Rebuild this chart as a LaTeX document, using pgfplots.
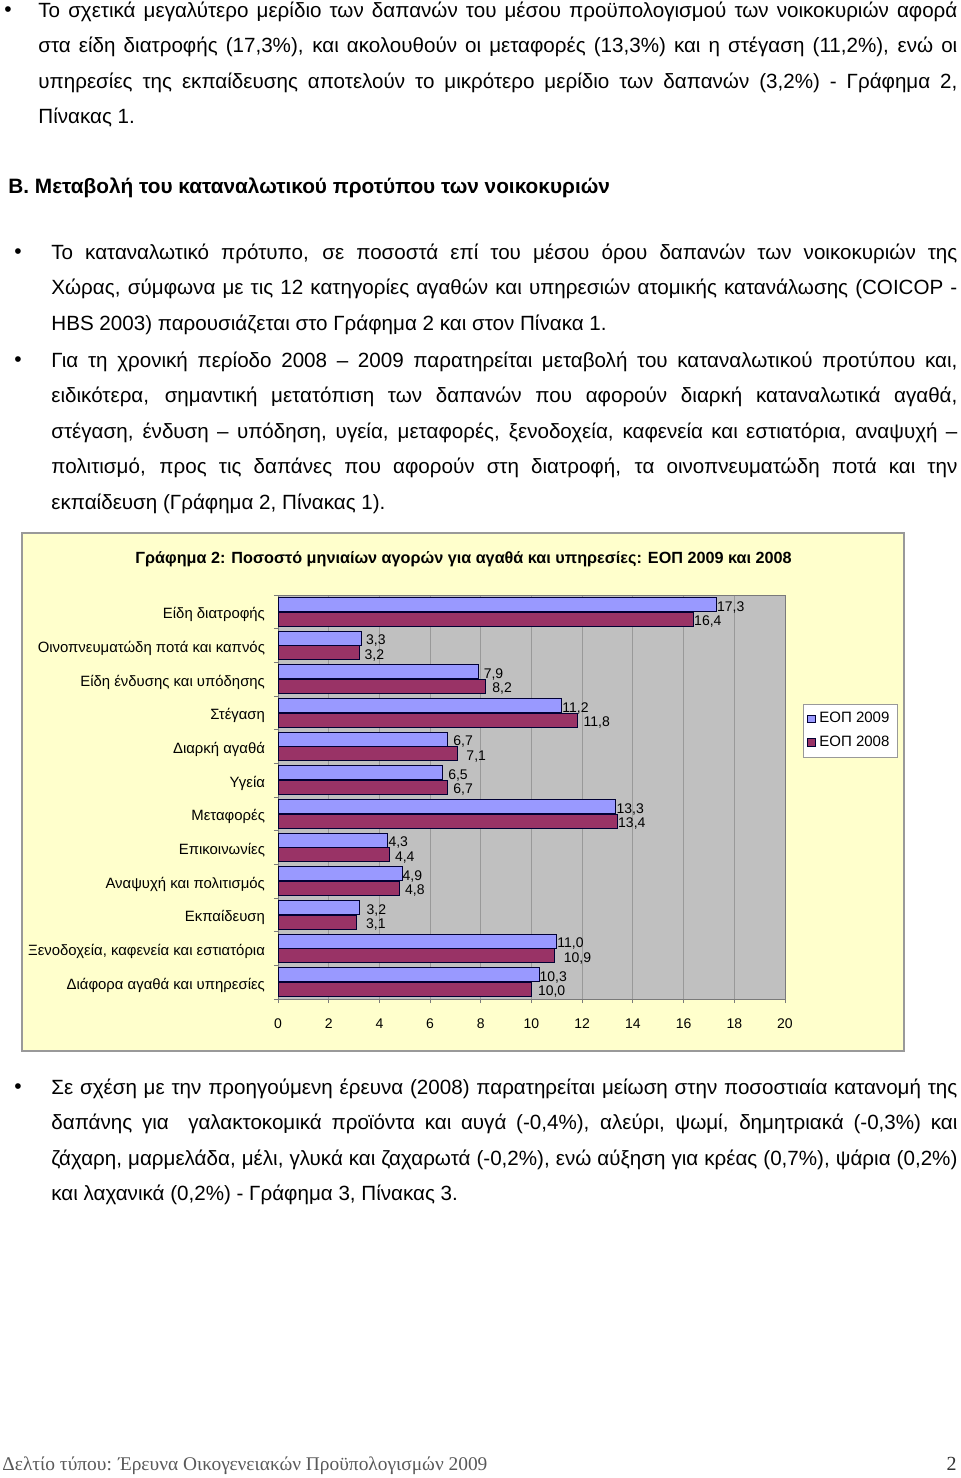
\documentclass[border=0pt]{standalone}
\usepackage{pgfplots}
\usepackage{pgfplotstable}
\pgfplotsset{compat=1.18}
\usepackage{fontspec}
\setmainfont{Liberation Sans}
\newfontfamily\seriffont{Liberation Serif}
\definecolor{chartbg}{HTML}{FFFFCC}
\definecolor{plotbg}{HTML}{C0C0C0}
\definecolor{sA}{HTML}{9999FF}
\definecolor{sB}{HTML}{993366}
\definecolor{gridc}{HTML}{999999}
\definecolor{barline}{HTML}{000033}

\pgfplotstableread{
y x dx
0 17.3 0
1 3.3 4
2 7.9 5
3 11.2 0
4 6.7 5
5 6.5 5
6 13.3 1
7 4.3 1
8 4.9 0
9 3.2 7
10 11.0 0
11 10.3 0
}\dataA

\pgfplotstableread{
y x dx
0 16.4 0
1 3.2 5
2 8.2 6
3 11.8 6
4 7.1 8
5 6.7 5
6 13.4 0
7 4.4 5
8 4.8 5
9 3.1 9
10 10.9 9
11 10.0 6
}\dataB

\begin{document}
\begin{tikzpicture}[x=0.5pt,y=-0.5pt]
\useasboundingbox (0,0) rectangle (960,1478);
\tikzset{
  body/.style={anchor=base west, inner sep=0pt, align=justify,
    font=\fontsize{10.3}{17.75}\selectfont},
  bul/.style={inner sep=0pt, font=\fontsize{10.5}{12}\selectfont}
}
% Paragraph 1
\node[bul] at (8,12) {•};
\node[body, text width=459.5pt] at (38,17) {Το σχετικά μεγαλύτερο μερίδιο των δαπανών του μέσου προϋπολογισμού των νοικοκυριών αφορά\linebreak
στα είδη διατροφής (17,3\%), και ακολουθούν οι μεταφορές (13,3\%) και η στέγαση (11,2\%), ενώ οι\linebreak
υπηρεσίες της εκπαίδευσης αποτελούν το μικρότερο μερίδιο των δαπανών (3,2\%) - Γράφημα 2,\linebreak
Πίνακας 1.};
% Heading
\node[anchor=base west, inner sep=0pt, font=\fontsize{10.4}{12}\selectfont\bfseries] at (8,193) {Β. Μεταβολή του καταναλωτικού προτύπου των νοικοκυριών};
% Paragraph 2
\node[bul] at (18,254) {•};
\node[body, text width=453pt] at (51,259) {Το καταναλωτικό πρότυπο, σε ποσοστά επί του μέσου όρου δαπανών των νοικοκυριών της\linebreak
Χώρας, σύμφωνα με τις 12 κατηγορίες αγαθών και υπηρεσιών ατομικής κατανάλωσης (COICOP -\linebreak
HBS 2003) παρουσιάζεται στο Γράφημα 2 και στον Πίνακα 1.};
% Paragraph 3
\node[bul] at (18,362) {•};
\node[body, text width=453pt] at (51,367) {Για τη χρονική περίοδο 2008 – 2009 παρατηρείται μεταβολή του καταναλωτικού προτύπου και,\linebreak
ειδικότερα, σημαντική μετατόπιση των δαπανών που αφορούν διαρκή καταναλωτικά αγαθά,\linebreak
στέγαση, ένδυση – υπόδηση, υγεία, μεταφορές, ξενοδοχεία, καφενεία και εστιατόρια, αναψυχή –\linebreak
πολιτισμό, προς τις δαπάνες που αφορούν στη διατροφή, τα οινοπνευματώδη ποτά και την\linebreak
εκπαίδευση (Γράφημα 2, Πίνακας 1).};
% Chart frame
\draw[gridc, fill=chartbg, line width=0.6pt] (22,533) rectangle (904,1051);
\node[font=\fontsize{8.1}{10}\selectfont\bfseries, inner sep=0pt] at (463.5,559) {Γράφημα 2: Ποσοστό μηνιαίων αγορών για αγαθά και υπηρεσίες: ΕΟΠ 2009 και 2008};
% Paragraph 4
\node[bul] at (18,1089) {•};
\node[body, text width=453pt] at (51,1094) {Σε σχέση με την προηγούμενη έρευνα (2008) παρατηρείται μείωση στην ποσοστιαία κατανομή της\linebreak
δαπάνης για \ γαλακτοκομικά προϊόντα και αυγά (-0,4\%), αλεύρι, ψωμί, δημητριακά (-0,3\%) και\linebreak
ζάχαρη, μαρμελάδα, μέλι, γλυκά και ζαχαρωτά (-0,2\%), ενώ αύξηση για κρέας (0,7\%), ψάρια (0,2\%)\linebreak
και λαχανικά (0,2\%) - Γράφημα 3, Πίνακας 3.};
% Footer
\node[anchor=base west, inner sep=0pt, font=\fontsize{9.7}{12}\seriffont, text=black!65] at (2,1470) {Δελτίο τύπου: Έρευνα Οικογενειακών Προϋπολογισμών 2009};
\node[anchor=base east, inner sep=0pt, font=\fontsize{10}{12}\seriffont, text=black!80] at (957,1470) {2};

\begin{axis}[
  at={(139pt,-499.5pt)}, anchor=south west,
  scale only axis, width=253.5pt, height=202pt,
  xbar, bar width=7pt,
  xmin=0, xmax=20, ymin=-0.5, ymax=11.5, y dir=reverse,
  axis background/.style={fill=plotbg},
  xtick={0,2,...,20},
  xmajorgrids, major grid style={draw=gridc, line width=0.5pt},
  axis line style={draw=gridc!80!black, line width=0.5pt},
  tick style={draw=gridc!80!black, line width=0.5pt},
  tick align=outside, major tick length=2pt,
  xtick pos=bottom, ytick pos=left,
  ytick={-0.5,0.5,...,11.5}, yticklabels={},
  extra y ticks={0,...,11},
  extra y tick style={major tick length=0pt, yticklabel style={xshift=-3pt, yshift=-1.5pt}},
  extra y tick labels={Είδη διατροφής,Οινοπνευματώδη ποτά και καπνός,Είδη ένδυσης και υπόδησης,Στέγαση,Διαρκή αγαθά,Υγεία,Μεταφορές,Επικοινωνίες,Αναψυχή και πολιτισμός,Εκπαίδευση,{Ξενοδοχεία, καφενεία και εστιατόρια},Διάφορα αγαθά και υπηρεσίες},
  yticklabel style={font=\fontsize{7.45}{9}\selectfont},
  xticklabel style={font=\fontsize{7}{9}\selectfont, yshift=-4.5pt},
  /pgf/number format/assume math mode=true,
  point meta=explicit,
  nodes near coords,
  nodes near coords style={font=\fontsize{7}{8}\selectfont, anchor=west, inner sep=0pt, yshift=-1.2pt,
    /pgf/number format/fixed, /pgf/number format/fixed zerofill,
    /pgf/number format/precision=1, /pgf/number format/use comma,
    /pgf/number format/assume math mode=true},
  legend style={at={(1.0355,0.731)}, anchor=north west, draw=gridc, fill=white,
    font=\fontsize{7.5}{9}\selectfont, inner sep=2pt, row sep=1pt,
    cells={anchor=west}},
]
\addplot[fill=sA, draw=barline, line width=0.5pt, bar shift=3.6pt,
  visualization depends on={\thisrow{dx} \as \dx},
  every node near coord/.append style={xshift=0.5*\dx pt},
  legend image code/.code={\draw[fill=sA, draw=barline, line width=0.4pt] (0pt,-1.8pt) rectangle (3.6pt,1.8pt);}]
  table[x=x, y=y, meta=x] {\dataA};
\addplot[fill=sB, draw=barline, line width=0.5pt, bar shift=-3.6pt,
  visualization depends on={\thisrow{dx} \as \dx},
  every node near coord/.append style={xshift=0.5*\dx pt},
  legend image code/.code={\draw[fill=sB, draw=barline, line width=0.4pt] (0pt,-1.8pt) rectangle (3.6pt,1.8pt);}]
  table[x=x, y=y, meta=x] {\dataB};
\legend{ΕΟΠ 2009, ΕΟΠ 2008}
\end{axis}
\end{tikzpicture}
\end{document}
